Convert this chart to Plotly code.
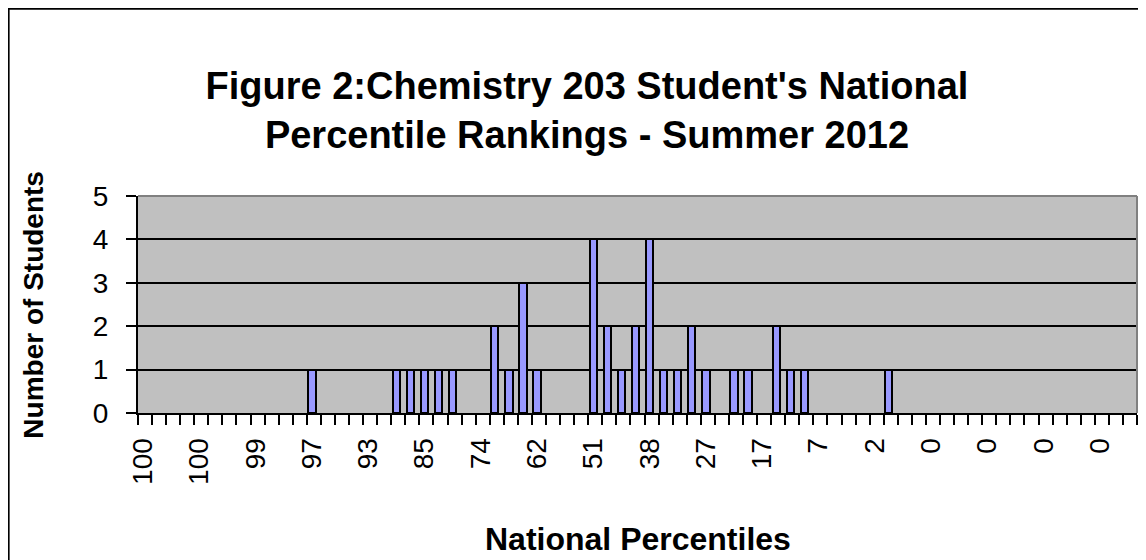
import plotly.graph_objects as go

# ---- data ----
n_categories = 71
bar_index = [12, 18, 19, 20, 21, 22, 25, 26, 27, 28, 32, 33, 34, 35, 36, 37, 38, 39, 40, 42, 43, 45, 46, 47, 53]
bar_count = [1, 1, 1, 1, 1, 1, 2, 1, 3, 1, 4, 2, 1, 2, 4, 1, 1, 2, 1, 1, 1, 2, 1, 1, 1]
label_index = list(range(0, 71, 4))
label_text = ["100", "100", "99", "97", "93", "85", "74", "62", "51", "38",
              "27", "17", "7", "2", "0", "0", "0", "0"]
y_ticks = [0, 1, 2, 3, 4, 5]

FONT = "Liberation Sans, Arial, sans-serif"

W, H = 1138, 552          # page has an 8px body margin
PL, PT, PR, PB = 130.3, 188.0, 1128.7, 404.7   # plot area in figure px
PW, PH = PR - PL, PB - PT

fig = go.Figure()
fig.add_trace(go.Bar(
    x=bar_index, y=bar_count,
    offset=0.1, width=0.52,
    marker=dict(color="#9999FF", line=dict(color="black", width=2)),
    showlegend=False, hoverinfo="x+y",
))

fig.update_layout(
    width=W, height=H,
    margin=dict(l=PL, r=W - PR, t=PT, b=H - PB, pad=0),
    paper_bgcolor="white",
    plot_bgcolor="#C0C0C0",
    font=dict(family=FONT, color="black"),
    bargap=0,
    title=dict(
        text="<b>Figure 2:Chemistry 203 Student's National<br>Percentile Rankings - Summer 2012</b>",
        font=dict(family=FONT, size=38, color="black"),
        x=(579 - PL) / PW, xref="paper", xanchor="center",
        y=1 - 91 / H, yref="container", yanchor="middle",
    ),
    xaxis=dict(
        range=[0, n_categories],
        showgrid=False, zeroline=False,
        showline=True, linecolor="black", linewidth=2,
        tickmode="array",
        tickvals=[i + 0.35 for i in label_index],
        ticktext=label_text,
        ticks="", tickangle=-90,
        tickfont=dict(family=FONT, size=28, color="black"),
        ticklabelstandoff=12,
        minor=dict(ticks="outside", ticklen=10, tickwidth=2, tickcolor="black",
                   tick0=0, dtick=1, showgrid=False),
        fixedrange=True,
    ),
    yaxis=dict(
        range=[0, 5],
        tickmode="array", tickvals=y_ticks,
        showgrid=True, gridcolor="black", gridwidth=1.7,
        zeroline=False,
        showline=True, linecolor="black", linewidth=2,
        ticks="outside", ticklen=10, tickwidth=2, tickcolor="black",
        tickfont=dict(family=FONT, size=28, color="black"),
        ticklabelstandoff=12,
        fixedrange=True,
    ),
    annotations=[
        dict(text="<b>National Percentiles</b>", xref="paper", yref="paper",
             x=0.5, y=(PB - 531) / PH, xanchor="center", yanchor="middle",
             showarrow=False, font=dict(family=FONT, size=32, color="black")),
        dict(text="<b>Number of Students</b>", xref="paper", yref="paper",
             x=(25.5 - PL) / PW, y=0.5, xanchor="center", yanchor="middle",
             textangle=-90, showarrow=False,
             font=dict(family=FONT, size=28, color="black")),
    ],
    shapes=[
        # gray top and right border of plot area
        dict(type="line", xref="paper", yref="paper", x0=0, x1=1, y0=1, y1=1,
             line=dict(color="#808080", width=2)),
        dict(type="line", xref="paper", yref="paper", x0=1, x1=1, y0=0, y1=1,
             line=dict(color="#808080", width=2)),
        # outer chart border
        dict(type="rect", xref="paper", yref="paper",
             x0=(1.0 - PL) / PW, x1=1.3,
             y0=-2.0, y1=(PB - 1.0) / PH,
             line=dict(color="black", width=2), fillcolor="rgba(0,0,0,0)"),
    ],
)

fig.write_html("out.html")
